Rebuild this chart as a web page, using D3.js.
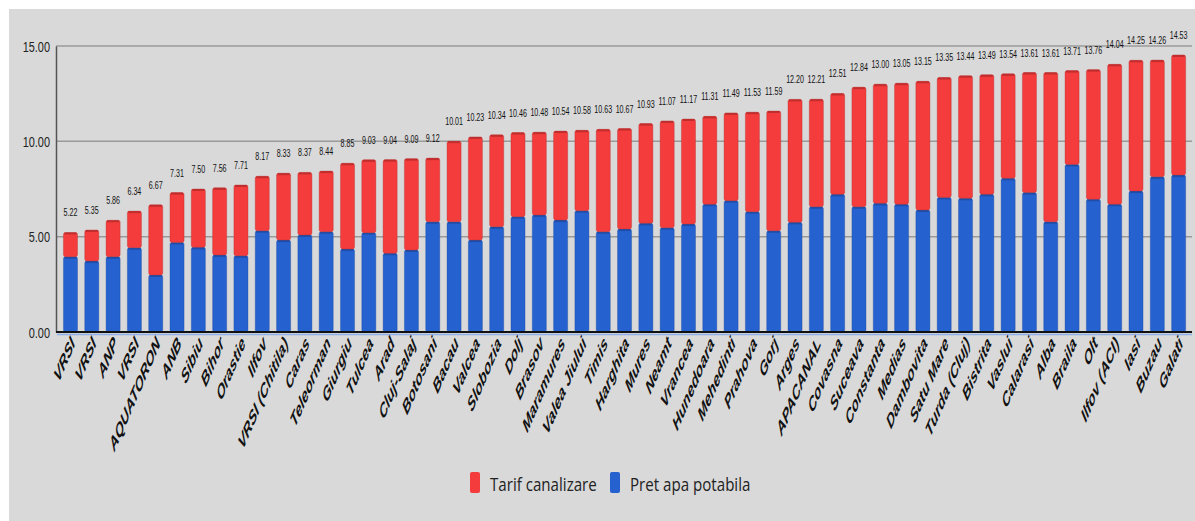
<!DOCTYPE html>
<html>
<head>
<meta charset="utf-8">
<script src="https://cdn.jsdelivr.net/npm/d3@7"></script>
<style>
  html, body { margin: 0; padding: 0; background: #fff; }
  svg { display: block; }
</style>
</head>
<body>
<svg id="chart" width="1195" height="521"></svg>
<script>
const categories = ["VRSI","VRSI","ANP","VRSI","AQUATORON","ANB","Sibiu","Bihor","Orastie","Ilfov",
  "VRSI (Chitila)","Caras","Teleorman","Giurgiu","Tulcea","Arad","Cluj-Salaj","Botosani","Bacau","Valcea",
  "Slobozia","Dolj","Brasov","Maramures","Valea Jiului","Timis","Harghita","Mures","Neamt","Vrancea",
  "Hunedoara","Mehedinti","Prahova","Gorj","Arges","APACANAL","Covasna","Suceava","Constanta","Medias",
  "Dambovita","Satu Mare","Turda (Cluj)","Bistrita","Vaslui","Calarasi","Alba","Braila","Olt","Ilfov (ACI)",
  "Iasi","Buzau","Galati"];
const totals = [5.22,5.35,5.86,6.34,6.67,7.31,7.50,7.56,7.71,8.17,
  8.33,8.37,8.44,8.85,9.03,9.04,9.09,9.12,10.01,10.23,
  10.34,10.46,10.48,10.54,10.58,10.63,10.67,10.93,11.07,11.17,
  11.31,11.49,11.53,11.59,12.20,12.21,12.51,12.84,13.00,13.05,
  13.15,13.35,13.44,13.49,13.54,13.61,13.61,13.71,13.76,14.04,
  14.25,14.26,14.53];
const pretApaPotabila = [3.95,3.72,3.95,4.42,2.99,4.70,4.44,4.04,4.00,5.31,
  4.82,5.09,5.26,4.35,5.21,4.13,4.30,5.78,5.78,4.82,
  5.52,6.05,6.14,5.87,6.36,5.26,5.40,5.70,5.47,5.66,
  6.70,6.89,6.31,5.31,5.75,6.57,7.22,6.57,6.75,6.70,
  6.40,7.06,7.01,7.22,8.06,7.31,5.78,8.79,6.96,6.70,
  7.39,8.14,8.23];
const yTicks = [0, 5, 10, 15];
const seriesNames = ["Tarif canalizare", "Pret apa potabila"];
const seriesColors = ["#f43c3c", "#2561cf"];
const seriesStroke = ["#b52a2a", "#1d4aa0"];

const rows = categories.map((c, i) => ({
  i, name: c, total: totals[i], apa: pretApaPotabila[i], tarif: +(totals[i] - pretApaPotabila[i]).toFixed(2)
}));

const svg = d3.select("#chart");
const W = 1195, H = 521;

svg.append("rect").attr("x", 0).attr("y", 0).attr("width", W).attr("height", H).attr("fill", "#ffffff");
svg.append("rect").attr("x", 9).attr("y", 9).attr("width", W - 9).attr("height", H - 9).attr("fill", "#d9d9d9");

const x = d3.scaleBand().domain(rows.map(d => d.i)).range([56.2, 1192.9]).paddingInner(0.34).paddingOuter(0.34);
const y = d3.scaleLinear().domain([0, 15]).range([332, 46]);

// gridlines
svg.append("g").selectAll("line").data(yTicks.filter(t => t > 0)).join("line")
  .attr("x1", 56).attr("x2", 1192)
  .attr("y1", d => y(d)).attr("y2", d => y(d))
  .attr("stroke", "#9a9a9a").attr("stroke-width", 1.5);

// y axis
const yAxis = d3.axisLeft(y).tickValues(yTicks).tickFormat(d3.format(".2f")).tickSize(0).tickPadding(6);
const gy = svg.append("g").attr("transform", "translate(56,0)").call(yAxis);
gy.select(".domain").attr("stroke", "#555").attr("stroke-width", 1.5);
gy.selectAll(".tick text")
  .attr("font-family", "Liberation Sans, Arial, sans-serif").attr("font-size", 14)
  .attr("fill", "#222")
  .attr("x", null).attr("dy", null)
  .attr("transform", "translate(-6,5) scale(0.78,1)");

// stacked bars
const stack = d3.stack().keys(["apa", "tarif"])(rows);
const keyIdx = { apa: 1, tarif: 0 };
stack.forEach(layer => {
  const k = keyIdx[layer.key];
  const g = svg.append("g");
  g.selectAll("rect").data(layer).join("rect")
    .attr("x", d => x(d.data.i))
    .attr("width", x.bandwidth())
    .attr("y", d => y(d[1]))
    .attr("height", d => y(d[0]) - y(d[1]))
    .attr("rx", 2)
    .attr("fill", seriesColors[k])
    .attr("stroke", seriesStroke[k]).attr("stroke-opacity", 0.45).attr("stroke-width", 0.8);
  g.selectAll("line").data(layer).join("line")
    .attr("x1", d => x(d.data.i) + 1).attr("x2", d => x(d.data.i) + x.bandwidth() - 1)
    .attr("y1", d => y(d[1]) + 1).attr("y2", d => y(d[1]) + 1)
    .attr("stroke", seriesStroke[k]).attr("stroke-width", 2).attr("stroke-opacity", 0.8);
});

// x axis baseline
svg.append("line").attr("x1", 56).attr("x2", 1192).attr("y1", y(0)).attr("y2", y(0))
  .attr("stroke", "#111").attr("stroke-width", 2);
svg.append("line").attr("x1", 57).attr("x2", 1192).attr("y1", y(0) + 2.5).attr("y2", y(0) + 2.5)
  .attr("stroke", "#8fb0e8").attr("stroke-width", 1.5);

// value labels (horizontally condensed)
svg.append("g").selectAll("text").data(rows).join("text")
  .attr("transform", d => `translate(${x(d.i) + x.bandwidth() / 2},${y(d.total) - 16}) scale(0.62,1)`)
  .attr("text-anchor", "middle")
  .attr("font-family", "Liberation Sans, Arial, sans-serif")
  .attr("font-size", 11.5)
  .attr("fill", "#111")
  .text(d => d.total.toFixed(2));

// category labels: steep, squeezed (explicit matrix)
const la = 0.45, lb = 1.05; // text direction -> (la, -lb)
svg.append("g").selectAll("text").data(rows).join("text")
  .attr("transform", d => `matrix(${la},${-lb},${0.5},${0.8},${x(d.i) + x.bandwidth() / 2 + 5},${y(0) + 12})`)
  .attr("text-anchor", "end")
  .attr("font-family", "Liberation Sans, Arial, sans-serif")
  .attr("font-size", 16)
  .attr("font-weight", "bold")
  .attr("font-style", "italic")
  .attr("fill", "#111")
  .text(d => d.name);

// legend
const legend = svg.append("g");
const legendItems = [
  { name: seriesNames[0], color: seriesColors[0], x: 470 },
  { name: seriesNames[1], color: seriesColors[1], x: 610 }
];
legendItems.forEach(it => {
  legend.append("rect").attr("x", it.x).attr("y", 472).attr("width", 10).attr("height", 21).attr("rx", 2)
    .attr("fill", it.color);
  legend.append("text").attr("transform", `translate(${it.x + 20},491) scale(0.84,1)`)
    .attr("font-family", "Open Sans, Noto Sans, sans-serif").attr("font-size", 18).attr("fill", "#222")
    .text(it.name);
});
</script>
</body>
</html>
